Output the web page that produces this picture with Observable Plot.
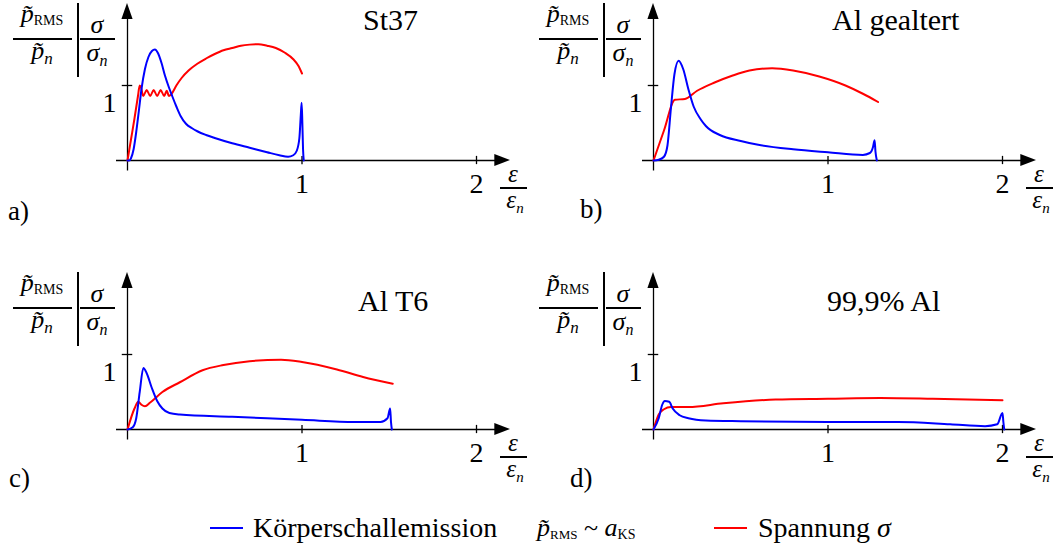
<!DOCTYPE html>
<html>
<head>
<meta charset="utf-8">
<script src="https://cdn.jsdelivr.net/npm/d3@7"></script>
<script src="https://cdn.jsdelivr.net/npm/@observablehq/plot@0.6"></script>
<style>
  html, body { margin: 0; padding: 0; background: #fff; }
  #root { position: relative; width: 1055px; height: 546px; overflow: hidden; font-family: "Liberation Serif", "Times New Roman", "DejaVu Serif", serif; color: #000; }
  .panel { position: absolute; width: 527px; height: 269px; }
  .panel svg { position: absolute; left: 0; top: 0; overflow: visible; }
  .t { position: absolute; white-space: nowrap; line-height: 1; }
  .t i { font-style: italic; }
  .sub { position: relative; font-style: normal; }
  .bar { position: absolute; background: #000; }
</style>
</head>
<body>
<div id="root"></div>
<script>
// ---------- data ----------
const panelTitles = ["St37", "Al gealtert", "Al T6", "99,9% Al"];
const panelLetters = ["a)", "b)", "c)", "d)"];
const strainTicks = [1, 2];
const strainTickLabels = ["1", "2"];
const ratioTicks = [1];
const ratioTickLabels = ["1"];
const seriesNames = ["Körperschallemission", "Spannung"];

// a) St37
const aBlueX = [0, 0.01, 0.02, 0.035, 0.05, 0.065, 0.08, 0.1, 0.12, 0.14, 0.157, 0.175, 0.195, 0.215, 0.235, 0.256, 0.28, 0.305, 0.335, 0.37, 0.4, 0.45, 0.5, 0.6, 0.7, 0.8, 0.87, 0.92, 0.95, 0.97, 0.985, 0.993, 0.998, 1.002, 1.006, 1.01];
const aBlueY = [0, 0, 0.03, 0.15, 0.38, 0.66, 0.95, 1.22, 1.38, 1.46, 1.48, 1.43, 1.3, 1.13, 0.99, 0.86, 0.72, 0.59, 0.49, 0.43, 0.39, 0.34, 0.3, 0.23, 0.17, 0.11, 0.07, 0.05, 0.07, 0.13, 0.3, 0.6, 0.77, 0.5, 0.15, 0];
const aRedX = [0, 0.02, 0.04, 0.06, 0.07, 0.078, 0.09, 0.11, 0.13, 0.15, 0.17, 0.19, 0.21, 0.225, 0.237, 0.25, 0.28, 0.31, 0.35, 0.4, 0.45, 0.5, 0.55, 0.6, 0.65, 0.7, 0.75, 0.8, 0.85, 0.9, 0.95, 0.98, 1.0];
const aRedY = [0, 0.28, 0.56, 0.86, 1.0, 0.97, 0.86, 0.94, 0.86, 0.94, 0.86, 0.94, 0.86, 0.93, 0.86, 0.88, 1.0, 1.1, 1.2, 1.29, 1.36, 1.42, 1.47, 1.5, 1.53, 1.545, 1.55, 1.53, 1.5, 1.44, 1.35, 1.26, 1.16];

// b) Al gealtert
const bBlueX = [0, 0.03, 0.06, 0.08, 0.1, 0.12, 0.144, 0.17, 0.2, 0.23, 0.27, 0.3, 0.38, 0.5, 0.6, 0.8, 1.0, 1.2, 1.24, 1.258, 1.267, 1.272, 1.28];
const bBlueY = [0, 0.01, 0.05, 0.2, 0.7, 1.15, 1.33, 1.22, 0.95, 0.72, 0.55, 0.46, 0.34, 0.26, 0.21, 0.15, 0.11, 0.075, 0.1, 0.18, 0.27, 0.12, 0];
const bRedX = [0, 0.06, 0.123, 0.18, 0.25, 0.35, 0.45, 0.55, 0.68, 0.8, 0.95, 1.1, 1.2, 1.287];
const bRedY = [0, 0.4, 0.81, 0.82, 0.93, 1.04, 1.13, 1.2, 1.23, 1.2, 1.12, 1.0, 0.89, 0.78];

// c) Al T6
const cBlueX = [0, 0.03, 0.05, 0.07, 0.091, 0.11, 0.14, 0.17, 0.2, 0.24, 0.3, 0.6, 1.0, 1.3, 1.45, 1.49, 1.505, 1.51, 1.515];
const cBlueY = [0, 0.03, 0.15, 0.5, 0.82, 0.75, 0.55, 0.38, 0.28, 0.22, 0.2, 0.17, 0.13, 0.1, 0.1, 0.15, 0.28, 0.1, 0];
const cRedX = [0, 0.04, 0.062, 0.08, 0.1, 0.13, 0.2, 0.3, 0.43, 0.55, 0.7, 0.88, 1.0, 1.2, 1.35, 1.52];
const cRedY = [0, 0.28, 0.37, 0.33, 0.31, 0.36, 0.5, 0.63, 0.79, 0.86, 0.91, 0.93, 0.9, 0.8, 0.7, 0.61];

// d) 99,9% Al
const dBlueX = [0, 0.03, 0.05, 0.065, 0.09, 0.11, 0.15, 0.2, 0.3, 0.5, 1.0, 1.4, 1.7, 1.9, 1.97, 2.0, 2.005, 2.01];
const dBlueY = [0, 0.15, 0.33, 0.38, 0.37, 0.28, 0.19, 0.15, 0.12, 0.11, 0.1, 0.1, 0.07, 0.045, 0.07, 0.22, 0.1, 0];
const dRedX = [0, 0.03, 0.06, 0.1, 0.2, 0.4, 0.7, 1.0, 1.3, 1.6, 2.0];
const dRedY = [0, 0.2, 0.27, 0.3, 0.3, 0.35, 0.4, 0.41, 0.42, 0.41, 0.39];

// ---------- drawing ----------
const BLUE = "#0000ff", RED = "#ff0000";
const root = document.getElementById("root");

function txt(parent, html, left, baseline, size, anchor) {
  const d = document.createElement("div");
  d.className = "t";
  d.style.fontSize = size + "px";
  d.style.top = (baseline - 0.8375 * size) + "px";
  d.style.left = left + "px";
  if (anchor === "middle") d.style.transform = "translateX(-50%)";
  d.innerHTML = html;
  parent.appendChild(d);
  return d;
}
function bar(parent, left, top, w, h, color) {
  const d = document.createElement("div");
  d.className = "bar";
  Object.assign(d.style, {left: left + "px", top: top + "px", width: w + "px", height: h + "px"});
  if (color) d.style.background = color;
  parent.appendChild(d);
}
const sub = (s, size, shift) => `<span class="sub" style="font-size:${size}px;top:${shift}px">${s}</span>`;

function makePanel(idx, left, top, blueX, blueY, redX, redY, titlePos, letterPos) {
  const div = document.createElement("div");
  div.className = "panel";
  div.style.left = left + "px";
  div.style.top = top + "px";
  root.appendChild(div);

  const blue = blueX.map((x, i) => ({x, y: blueY[i]}));
  const red = redX.map((x, i) => ({x, y: redY[i]}));
  const arrowXHead = [{x: 2.105, lo: -0.08, hi: 0.08}, {x: 2.195, lo: 0, hi: 0}];
  const arrowYHead = [{y: 1.88, lo: -0.032, hi: 0.032}, {y: 2.095, lo: 0, hi: 0}];

  const svg = Plot.plot({
    width: 527, height: 269,
    marginLeft: 127, marginRight: 51, marginTop: 10, marginBottom: 109,
    x: {domain: [0, 2], axis: null},
    y: {domain: [0, 2], axis: null},
    style: {background: "transparent", overflow: "visible", fontFamily: "'Liberation Serif', 'Times New Roman', serif", color: "#000"},
    marks: [
      Plot.ruleY([0], {x1: -0.063, x2: 2.12, stroke: "#000", strokeWidth: 1.3}),
      Plot.ruleX([0], {y1: -0.14, y2: 1.9, stroke: "#000", strokeWidth: 1.3}),
      Plot.areaY(arrowXHead, {x: "x", y1: "lo", y2: "hi", fill: "#000"}),
      Plot.areaX(arrowYHead, {y: "y", x1: "lo", x2: "hi", fill: "#000"}),
      Plot.ruleX(strainTicks, {x: d => d, y1: -0.055, y2: 0.055, stroke: "#000", strokeWidth: 1.3}),
      Plot.ruleY(ratioTicks, {y: d => d, x1: -0.03, x2: 0.03, stroke: "#000", strokeWidth: 1.3}),
      Plot.text(strainTicks, {x: d => d, y: 0, text: (d, i) => strainTickLabels[i], dy: 24, fontSize: 28, fill: "#000"}),
      Plot.text(ratioTicks, {x: 0, y: d => d, text: (d, i) => ratioTickLabels[i], dx: -18, dy: 18, fontSize: 28, fill: "#000"}),
      Plot.line(red, {x: "x", y: "y", stroke: RED, strokeWidth: 2, curve: "monotone-x"}),
      Plot.line(blue, {x: "x", y: "y", stroke: BLUE, strokeWidth: 2, curve: "monotone-x"})
    ]
  });
  div.appendChild(svg);

  // y label: p~RMS / p~n | sigma / sigma_n
  txt(div, `<i>p̃</i>${sub("RMS", 14, 3)}`, 42, 23, 26, "middle");
  bar(div, 13, 38, 59, 1.5);
  txt(div, `<i>p̃</i>${sub("<i>n</i>", 17, 5)}`, 42, 60, 26, "middle");
  bar(div, 77, 3, 2, 74);
  txt(div, `<i>σ</i>`, 97, 34, 26, "middle");
  bar(div, 80, 38, 35, 1.5);
  txt(div, `<i>σ</i>${sub("<i>n</i>", 16, 5)}`, 97, 62, 26, "middle");

  // x label: epsilon / epsilon_n
  txt(div, `<i>ε</i>`, 513, 182, 25, "middle");
  bar(div, 500, 187, 27, 1.5);
  txt(div, `<i>ε</i>${sub("<i>n</i>", 15, 5)}`, 515, 208, 25, "middle");

  // title and letter
  txt(div, panelTitles[idx], titlePos[0], titlePos[1], 30);
  txt(div, panelLetters[idx], letterPos[0], letterPos[1], 27);
}

makePanel(0, 0, 0, aBlueX, aBlueY, aRedX, aRedY, [363, 30], [8, 221]);
makePanel(1, 526, 0, bBlueX, bBlueY, bRedX, bRedY, [306, 30], [54, 219]);
makePanel(2, 0, 269, cBlueX, cBlueY, cRedX, cRedY, [358, 42], [9, 219]);
makePanel(3, 526, 269, dBlueX, dBlueY, dRedX, dRedY, [301, 42], [44, 219]);

// legend
bar(root, 210, 527, 33, 2, BLUE);
txt(root, seriesNames[0], 253, 537, 28);
txt(root, `<i>p̃</i>${sub("RMS", 13, 3)} ~ <i>a</i>${sub("KS", 14, 3)}`, 537, 537, 26);
bar(root, 714, 527, 33, 2, RED);
txt(root, `${seriesNames[1]} <i>σ</i>`, 758, 537, 28);
</script>
</body>
</html>
